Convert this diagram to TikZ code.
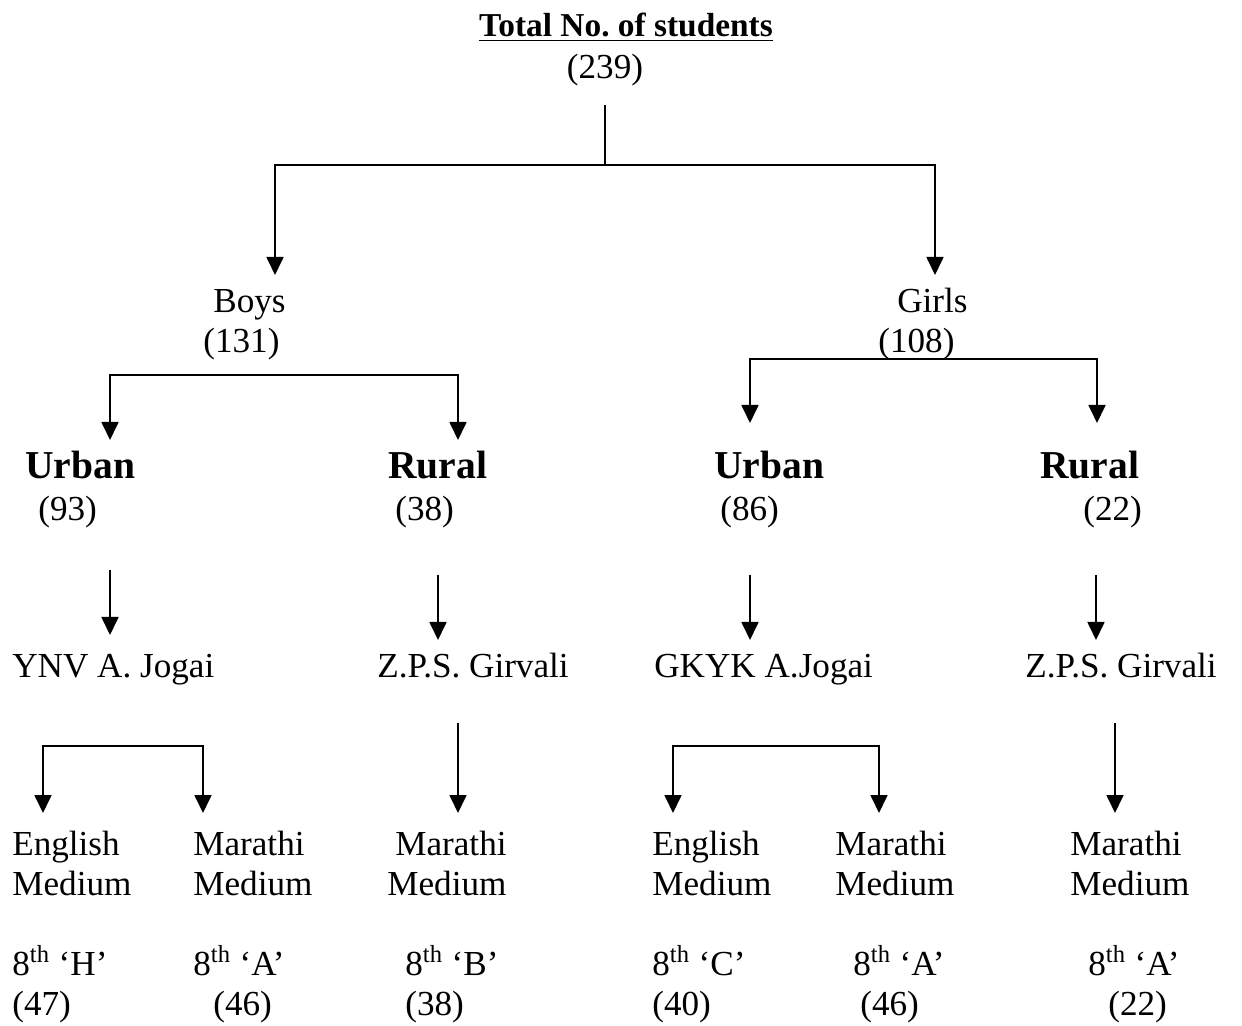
\documentclass[tikz,border=0pt]{standalone}
\usepackage{fontspec}
\setmainfont{Liberation Serif}
\frenchspacing
\usetikzlibrary{arrows.meta}
\tikzset{
  txt/.style={anchor=base west, inner sep=0pt, font=\fontsize{20}{24}\selectfont},
  area/.style={anchor=base west, inner sep=0pt, font=\fontsize{22.5}{27}\selectfont\bfseries},
  link/.style={line width=1pt},
  arr/.style={link, -{Triangle[width=0.34cm,length=0.36cm]}},
  twoarr/.style={link, {Triangle[width=0.34cm,length=0.36cm]}-{Triangle[width=0.34cm,length=0.36cm]}},
}
\begin{document}
\begin{tikzpicture}[x=0.02cm,y=-0.02cm]
  \useasboundingbox (0,0) rectangle (1242,1026);
  % Total
  \node[anchor=base, inner sep=0pt, font=\fontsize{19}{23}\selectfont\bfseries] (total) at (626,37) {\underline{Total No. of students}};
  \node[anchor=base, inner sep=0pt, font=\fontsize{20}{24}\selectfont] (totaln) at (605,79) {(239)};
  % Boys / Girls
  \node[txt] (boys) at (213,313) {Boys};
  \node[txt] (boysn) at (203,353) {(131)};
  \node[txt] (girls) at (897,313) {Girls};
  \node[txt] (girlsn) at (878,353) {(108)};
  % Urban / Rural
  \node[area] (burb) at (25,479) {Urban};
  \node[txt] (burbn) at (38,521) {(93)};
  \node[area] (brur) at (388,479) {Rural};
  \node[txt] (brurn) at (395,521) {(38)};
  \node[area] (gurb) at (714,479) {Urban};
  \node[txt] (gurbn) at (720,521) {(86)};
  \node[area] (grur) at (1040,479) {Rural};
  \node[txt] (grurn) at (1083,521) {(22)};
  % Schools
  \node[txt] (ynv) at (12,678) {YNV A. Jogai};
  \node[txt] (zpsb) at (377,678) {Z.P.S. Girvali};
  \node[txt] (gkyk) at (654,678) {GKYK A.Jogai};
  \node[txt] (zpsg) at (1025,678) {Z.P.S. Girvali};
  % Medium
  \node[txt] (med1) at (12,856) {English};
  \node[txt] (med1b) at (12,896) {Medium};
  \node[txt] (med2) at (193,856) {Marathi};
  \node[txt] (med2b) at (193,896) {Medium};
  \node[txt] (med3) at (395,856) {Marathi};
  \node[txt] (med3b) at (387,896) {Medium};
  \node[txt] (med4) at (652,856) {English};
  \node[txt] (med4b) at (652,896) {Medium};
  \node[txt] (med5) at (835,856) {Marathi};
  \node[txt] (med5b) at (835,896) {Medium};
  \node[txt] (med6) at (1070,856) {Marathi};
  \node[txt] (med6b) at (1070,896) {Medium};
  % Classes
  \node[txt] (cls1) at (12,976) {8\textsuperscript{th} ‘H’};
  \node[txt] (cls1n) at (12,1016) {(47)};
  \node[txt] (cls2) at (193,976) {8\textsuperscript{th} ‘A’};
  \node[txt] (cls2n) at (213,1016) {(46)};
  \node[txt] (cls3) at (405,976) {8\textsuperscript{th} ‘B’};
  \node[txt] (cls3n) at (405,1016) {(38)};
  \node[txt] (cls4) at (652,976) {8\textsuperscript{th} ‘C’};
  \node[txt] (cls4n) at (652,1016) {(40)};
  \node[txt] (cls5) at (853,976) {8\textsuperscript{th} ‘A’};
  \node[txt] (cls5n) at (860,1016) {(46)};
  \node[txt] (cls6) at (1088,976) {8\textsuperscript{th} ‘A’};
  \node[txt] (cls6n) at (1108,1016) {(22)};

  % Connector points
  \coordinate (t0) at (605,105);
  \coordinate (t1) at (605,165);
  \coordinate (tb) at (275,275);
  \coordinate (tg) at (935,275);
  \coordinate (b0) at (110,440);
  \coordinate (b1) at (110,375);
  \coordinate (b2) at (458,375);
  \coordinate (b3) at (458,440);
  \coordinate (g0) at (750,423);
  \coordinate (g1) at (750,359);
  \coordinate (g2) at (1097,359);
  \coordinate (g3) at (1097,423);
  \coordinate (ua) at (110,570);
  \coordinate (ub) at (110,635);
  \coordinate (ra) at (438,575);
  \coordinate (rb) at (438,640);
  \coordinate (va) at (750,575);
  \coordinate (vb) at (750,640);
  \coordinate (sa) at (1096,575);
  \coordinate (sb) at (1096,640);
  \coordinate (y0) at (43,813);
  \coordinate (y1) at (43,746);
  \coordinate (y2) at (203,746);
  \coordinate (y3) at (203,813);
  \coordinate (za) at (458,723);
  \coordinate (zb) at (458,813);
  \coordinate (k0) at (673,813);
  \coordinate (k1) at (673,746);
  \coordinate (k2) at (879,746);
  \coordinate (k3) at (879,813);
  \coordinate (wa) at (1115,723);
  \coordinate (wb) at (1115,813);

  % Connectors
  \draw[link] (t0) -- (t1);
  \draw[arr] (t1) -| (tb);
  \draw[arr] (t1) -| (tg);
  \draw[twoarr] (b0) -- (b1) -- (b2) -- (b3);
  \draw[twoarr] (g0) -- (g1) -- (g2) -- (g3);
  \draw[arr] (ua) -- (ub);
  \draw[arr] (ra) -- (rb);
  \draw[arr] (va) -- (vb);
  \draw[arr] (sa) -- (sb);
  \draw[twoarr] (y0) -- (y1) -- (y2) -- (y3);
  \draw[arr] (za) -- (zb);
  \draw[twoarr] (k0) -- (k1) -- (k2) -- (k3);
  \draw[arr] (wa) -- (wb);
\end{tikzpicture}
\end{document}
